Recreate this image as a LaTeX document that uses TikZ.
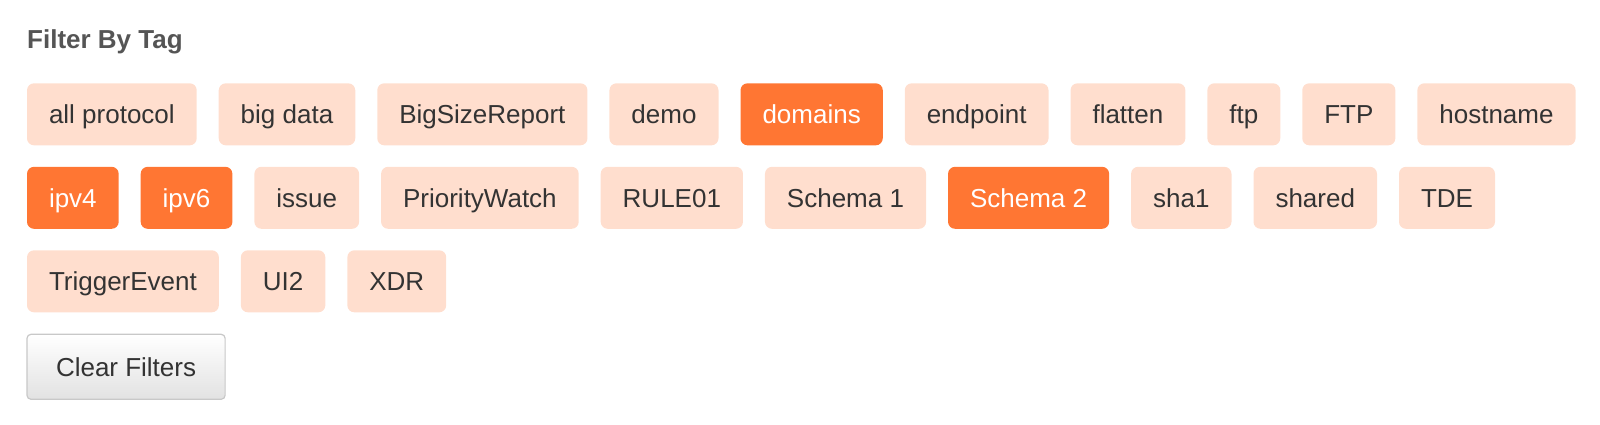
\documentclass[tikz,border=0pt]{standalone}
\usepackage{fontspec}
\setmainfont{Liberation Sans}
\usetikzlibrary{positioning}
\definecolor{tagpeach}{RGB}{255,222,206}
\definecolor{tagorange}{RGB}{255,118,51}
\definecolor{tagtext}{RGB}{51,51,51}
\definecolor{titlegray}{RGB}{85,85,85}
\definecolor{btnborder}{RGB}{200,200,200}
\definecolor{btnbottom}{RGB}{226,226,226}
\tikzset{
node distance=22pt, % gap between two tags in a row
tag/.style={font=\fontsize{26pt}{30pt}\selectfont, fill=tagpeach, text=tagtext, rounded corners=7pt, inner xsep=22pt, minimum height=62pt, text height=18.6pt, text depth=0pt, outer sep=0pt}, % an unselected tag
clearbtn/.style={font=\fontsize{26pt}{30pt}\selectfont, draw=btnborder, line width=1.2pt, top color=white, bottom color=btnbottom, text=tagtext, rounded corners=4pt, inner xsep=29pt, minimum height=65pt, text height=18.6pt, text depth=0pt, outer sep=0pt}, % the button under the tags
}
\tikzset{
  selected/.append style={tag, fill=tagorange, text=white}
}

\begin{document}
\begin{tikzpicture}[x=1pt, y=-1pt]
      \useasboundingbox (0,0) rectangle (1600,424);
      \node[font=\fontsize{26pt}{30pt}\selectfont\bfseries, text=titlegray, anchor=base west, inner sep=0pt] (title) at (27,48) {Filter By Tag};

      \node[tag, anchor=north west] (allprotocol) at (27,83.3) {all protocol};
      \node[tag, right=of allprotocol] (bigdata) {big data};
      \node[tag, right=of bigdata] (bigsizereport) {BigSizeReport};
      \node[tag, right=of bigsizereport] (demo) {demo};
      \node[selected, right=of demo] (domains) {domains};
      \node[tag, right=of domains] (endpoint) {endpoint};
      \node[tag, right=of endpoint] (flatten) {flatten};
      \node[tag, right=of flatten] (ftp) {ftp};
      \node[tag, right=of ftp] (FTP) {FTP};
      \node[tag, right=of FTP] (hostname) {hostname};

      \node[selected, below=21.5pt of allprotocol.south west, anchor=north west] (ipv4) {ipv4};
      \node[selected, right=of ipv4] (ipv6) {ipv6};
      \node[tag, right=of ipv6] (issue) {issue};
      \node[tag, right=of issue] (prioritywatch) {PriorityWatch};
      \node[tag, right=of prioritywatch] (rule01) {RULE01};
      \node[tag, right=of rule01] (schema1) {Schema 1};
      \node[selected, right=of schema1] (schema2) {Schema 2};
      \node[tag, right=of schema2] (sha1) {sha1};
      \node[tag, right=of sha1] (shared) {shared};
      \node[tag, right=of shared] (tde) {TDE};

      \node[tag, below=21.5pt of ipv4.south west, anchor=north west] (triggerevent) {TriggerEvent};
      \node[tag, right=of triggerevent] (ui2) {UI2};
      \node[tag, right=of ui2] (xdr) {XDR};

      \node[clearbtn, below=22pt of triggerevent.south west, anchor=north west] (clear) {Clear Filters};
    \end{tikzpicture}
\end{document}
